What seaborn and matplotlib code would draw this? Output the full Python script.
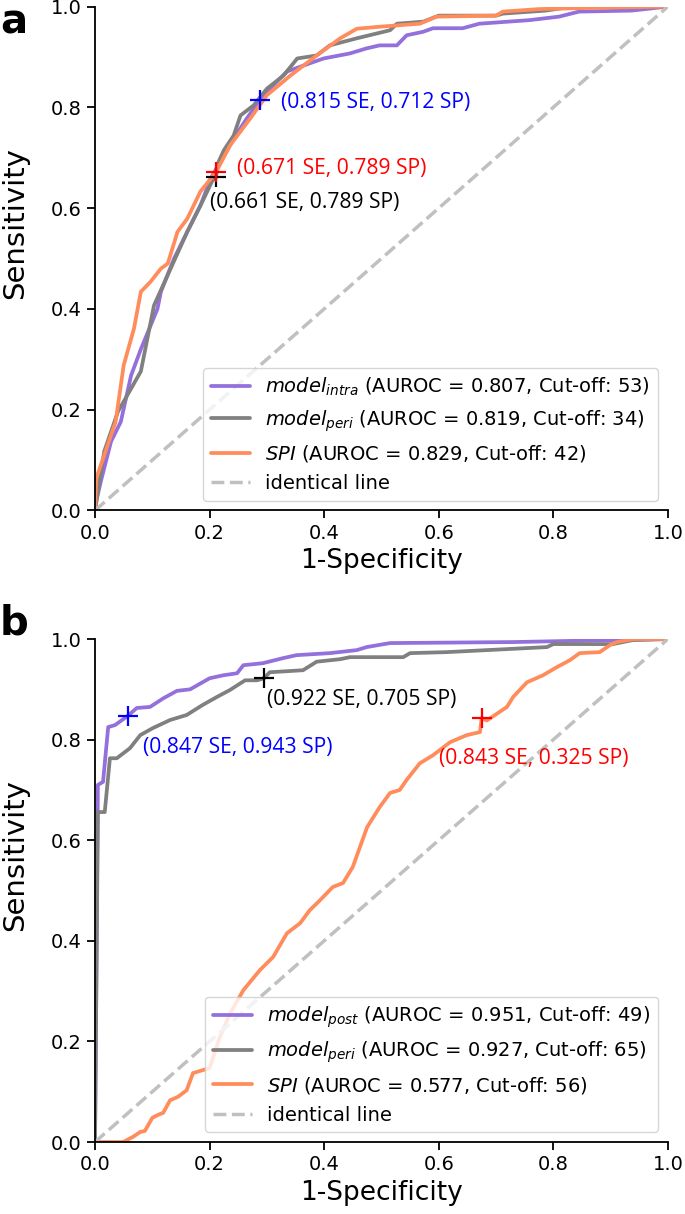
import matplotlib
matplotlib.use('Agg')
import matplotlib.pyplot as plt
import seaborn as sns

# ---- panel a : ROC points ----
a_intra_fpr = [0, 0.002, 0.010, 0.028, 0.045, 0.063, 0.080, 0.109, 0.115, 0.138, 0.161, 0.184, 0.202,
               0.219, 0.242, 0.265, 0.288, 0.294, 0.335, 0.364, 0.399, 0.445, 0.474, 0.497, 0.527,
               0.544, 0.573, 0.590, 0.642, 0.671, 0.758, 0.810, 0.845, 0.937, 1.0]
a_intra_tpr = [0, 0.018, 0.057, 0.137, 0.176, 0.268, 0.320, 0.400, 0.434, 0.500, 0.553, 0.605, 0.659,
               0.692, 0.738, 0.778, 0.815, 0.824, 0.871, 0.883, 0.897, 0.907, 0.917, 0.923, 0.923,
               0.943, 0.950, 0.957, 0.957, 0.966, 0.973, 0.980, 0.990, 0.992, 1.0]

a_peri_fpr = [0, 0.016, 0.040, 0.063, 0.080, 0.103, 0.132, 0.161, 0.190, 0.205, 0.211, 0.215, 0.225,
              0.242, 0.254, 0.277, 0.300, 0.329, 0.353, 0.387, 0.410, 0.457, 0.515, 0.527, 0.573,
              0.600, 0.700, 0.712, 0.787, 0.833, 1.0]
a_peri_tpr = [0, 0.117, 0.196, 0.242, 0.276, 0.407, 0.480, 0.553, 0.619, 0.655, 0.661, 0.690, 0.715,
              0.744, 0.784, 0.804, 0.837, 0.863, 0.897, 0.903, 0.923, 0.937, 0.953, 0.966, 0.970,
              0.982, 0.982, 0.986, 0.992, 1.0, 1.0]

a_spi_fpr = [0, 0.002, 0.036, 0.050, 0.068, 0.080, 0.097, 0.115, 0.127, 0.144, 0.161, 0.184, 0.211,
             0.236, 0.271, 0.300, 0.341, 0.387, 0.428, 0.457, 0.497, 0.567, 0.596, 0.700, 0.712,
             0.776, 0.850, 1.0]
a_spi_tpr = [0, 0.063, 0.176, 0.288, 0.361, 0.434, 0.454, 0.480, 0.490, 0.553, 0.579, 0.633, 0.671,
             0.725, 0.778, 0.824, 0.863, 0.903, 0.937, 0.956, 0.960, 0.966, 0.980, 0.982, 0.990,
             0.995, 0.997, 1.0]

# ---- panel b ----
b_post_fpr = [0, 0.005, 0.014, 0.023, 0.035, 0.057, 0.073, 0.096, 0.119, 0.143, 0.166, 0.200, 0.224,
              0.248, 0.259, 0.293, 0.328, 0.352, 0.410, 0.457, 0.474, 0.515, 0.730, 0.904, 1.0]
b_post_tpr = [0, 0.710, 0.716, 0.825, 0.829, 0.847, 0.863, 0.865, 0.882, 0.897, 0.900, 0.922, 0.928,
              0.932, 0.948, 0.952, 0.962, 0.968, 0.972, 0.978, 0.984, 0.992, 0.994, 0.998, 1.0]

b_peri_fpr = [0, 0.005, 0.017, 0.026, 0.038, 0.061, 0.079, 0.101, 0.131, 0.160, 0.188, 0.213, 0.236,
              0.262, 0.283, 0.295, 0.305, 0.363, 0.387, 0.428, 0.445, 0.538, 0.550, 0.614, 0.719,
              0.789, 0.800, 0.904, 0.939, 1.0]
b_peri_tpr = [0, 0.656, 0.656, 0.763, 0.763, 0.783, 0.809, 0.823, 0.839, 0.849, 0.869, 0.885, 0.899,
              0.918, 0.918, 0.922, 0.934, 0.938, 0.955, 0.960, 0.964, 0.964, 0.972, 0.974, 0.980,
              0.984, 0.990, 0.990, 0.998, 1.0]

b_spi_fpr = [0, 0.049, 0.066, 0.079, 0.087, 0.100, 0.110, 0.119, 0.131, 0.145, 0.160, 0.171, 0.200,
             0.218, 0.236, 0.259, 0.288, 0.311, 0.335, 0.358, 0.375, 0.393, 0.415, 0.433, 0.450,
             0.475, 0.497, 0.515, 0.532, 0.544, 0.567, 0.590, 0.620, 0.649, 0.672, 0.675, 0.684,
             0.719, 0.730, 0.754, 0.782, 0.806, 0.829, 0.846, 0.881, 0.899, 0.911, 0.940, 1.0]
b_spi_tpr = [0, 0, 0.010, 0.020, 0.022, 0.048, 0.054, 0.058, 0.083, 0.090, 0.103, 0.137, 0.147,
             0.209, 0.256, 0.302, 0.342, 0.368, 0.415, 0.435, 0.461, 0.481, 0.507, 0.515, 0.547,
             0.626, 0.666, 0.694, 0.700, 0.720, 0.753, 0.769, 0.795, 0.809, 0.815, 0.843, 0.838,
             0.865, 0.885, 0.914, 0.928, 0.944, 0.958, 0.972, 0.974, 0.988, 0.994, 1.0, 1.0]

a_labels = [r'$\mathit{model}_{\mathit{intra}}$ (AUROC = 0.807, Cut-off: 53)',
            r'$\mathit{model}_{\mathit{peri}}$ (AUROC = 0.819, Cut-off: 34)',
            r'$\mathit{SPI}$ (AUROC = 0.829, Cut-off: 42)']
b_labels = [r'$\mathit{model}_{\mathit{post}}$ (AUROC = 0.951, Cut-off: 49)',
            r'$\mathit{model}_{\mathit{peri}}$ (AUROC = 0.927, Cut-off: 65)',
            r'$\mathit{SPI}$ (AUROC = 0.577, Cut-off: 56)']

# cut-off points: (sensitivity, specificity)
a_cuts = [(0.815, 0.712), (0.661, 0.789), (0.671, 0.789)]
b_cuts = [(0.847, 0.943), (0.922, 0.705), (0.843, 0.325)]
a_text_pos = [(0.325, 0.81), (0.200, 0.612), (0.248, 0.678)]
b_text_pos = [(0.084, 0.785), (0.300, 0.879), (0.600, 0.763)]

line_colors = ['#9370DB', '#808080', '#FF8C5A']
cut_colors = ['blue', 'black', 'red']

sns.set_style('ticks')
plt.rcParams['font.family'] = ['DejaVu Sans']
plt.rcParams['mathtext.fontset'] = 'dejavusans'
plt.rcParams['text.color'] = 'black'
plt.rcParams['axes.labelcolor'] = 'black'
plt.rcParams['axes.edgecolor'] = 'black'
plt.rcParams['xtick.color'] = 'black'
plt.rcParams['ytick.color'] = 'black'

fig = plt.figure(figsize=(6.85, 12.14), dpi=100)
ax_a = fig.add_axes([0.1387, 0.5795, 0.8363, 0.4151])
ax_b = fig.add_axes([0.1387, 0.0593, 0.8363, 0.4143])


def roc_panel(ax, curves, labels, cuts, text_pos):
    for (fpr, tpr), lab, col in zip(curves, labels, line_colors):
        sns.lineplot(x=fpr, y=tpr, sort=False, estimator=None, color=col, lw=2.7,
                     label=lab, ax=ax)
    ax.plot([0, 1], [0, 1], ls='--', color='#C0C0C0', lw=2.5, label='identical line')
    for (se, sp), col, (tx, ty) in zip(cuts, cut_colors, text_pos):
        ax.plot(1 - sp, se, marker='+', color=col, ms=15, mew=1.6, ls='none')
        ax.text(tx, ty, f'({se:.3f} SE, {sp:.3f} SP)', color=col, fontsize=15.2,
                family='Open Sans', va='center', ha='left')
    ax.set_xlim(0, 1)
    ax.set_ylim(0, 1)
    ax.set_xticks([0, 0.2, 0.4, 0.6, 0.8, 1.0])
    ax.set_yticks([0, 0.2, 0.4, 0.6, 0.8, 1.0])
    ax.tick_params(labelsize=14, length=6, width=1.3)
    for s in ax.spines.values():
        s.set_linewidth(1.3)
    sns.despine(ax=ax)
    ax.set_xlabel('1-Specificity', fontsize=19)
    ax.set_ylabel('Sensitivity', fontsize=21)
    ax.yaxis.set_label_coords(-0.115, 0.57)
    ax.legend(loc='lower right', fontsize=14, framealpha=0.8)


roc_panel(ax_a, [(a_intra_fpr, a_intra_tpr), (a_peri_fpr, a_peri_tpr), (a_spi_fpr, a_spi_tpr)],
          a_labels, a_cuts, a_text_pos)
roc_panel(ax_b, [(b_post_fpr, b_post_tpr), (b_peri_fpr, b_peri_tpr), (b_spi_fpr, b_spi_tpr)],
          b_labels, b_cuts, b_text_pos)

fig.text(0.0, 0.998, 'a', fontsize=29, fontweight='bold', va='top', ha='left')
fig.text(0.0, 0.503, 'b', fontsize=29, fontweight='bold', va='top', ha='left')

fig.savefig('out.png', dpi=100)
